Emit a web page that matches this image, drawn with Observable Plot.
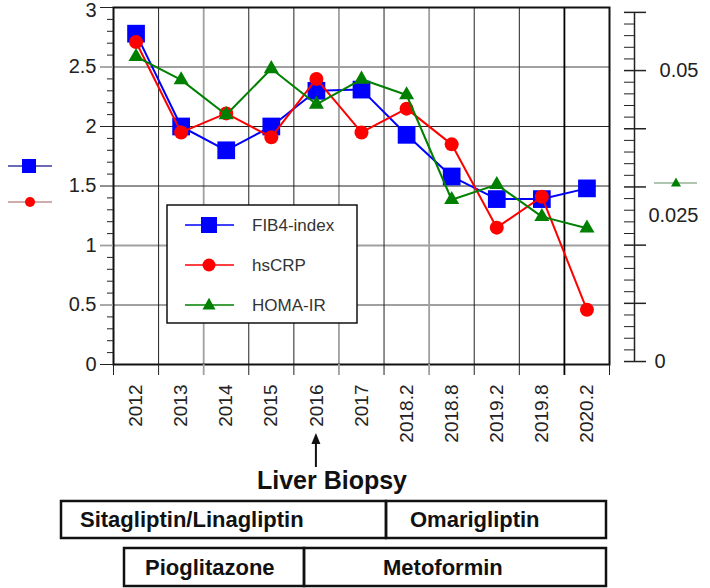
<!DOCTYPE html>
<html><head><meta charset="utf-8">
<script src="https://cdn.jsdelivr.net/npm/d3@7"></script>
<script src="https://cdn.jsdelivr.net/npm/@observablehq/plot@0.6"></script>
<style>
body{margin:0;background:#fff;}
#wrap{position:relative;width:710px;height:588px;font-family:"Liberation Sans",Arial,sans-serif;background:#fff;}
#wrap svg.ov{position:absolute;left:0;top:0;pointer-events:none;}
</style></head><body><div id="wrap"></div>
<script>
// ---- data ----
const categories = ["2012","2013","2014","2015","2016","2017","2018.2","2018.8","2019.2","2019.8","2020.2"];
const fib4   = [2.78,2.00,1.80,2.00,2.30,2.31,1.93,1.58,1.39,1.39,1.48];
const hscrp  = [2.71,1.95,2.11,1.91,2.40,1.95,2.15,1.85,1.15,1.41,0.46];
const homaIR = [0.0524,0.0484,0.0424,0.0503,0.0442,0.0485,0.0458,0.0278,0.0304,0.0249,0.0229];
const leftTicks = [0,0.5,1,1.5,2,2.5,3];
const rightTickLabels = [0.025,0.05];
const rightZeroLabel = [0];
const seriesNames = ["FIB4-index","hsCRP","HOMA-IR"];
const seriesColors = ["#0000ff","#ff0000","#008000"];
const darkGridY = [1.5,2];
const greyGridY = [0.5,1,2.5];
const greyBefore = ["2014","2017","2018.8"];
const blackBefore = ["2020.2"];
const drugsRow1 = ["Sitagliptin/Linagliptin","Omarigliptin"];
const drugsRow2 = ["Pioglitazone","Metoformin"];
const biopsyLabel = "Liver Biopsy";
const biopsyAt = "2016";

// ---- helpers ----
const yR = r => 0.025 + r * 48.9; // right axis (0..0.06) onto left scale
const rows = (s, f = v => v) => categories.map((c, i) => ({i, v: f(s[i])}));
const xi = categories.map((c, i) => i);
const bounds = d3.range(categories.length + 1).map(i => i - 0.5);
const idxBefore = c => categories.indexOf(c) - 0.5;
const greyB = greyBefore.map(idxBefore), blackB = blackBefore.map(idxBefore);
const darkB = bounds.filter(b => !greyB.includes(b) && !blackB.includes(b));
const leftMinor = d3.range(0, 31).map(k => k / 10).filter(v => !leftTicks.includes(v));
const rightMajor = d3.range(0, 7).map(k => k / 100);
const rightMinor = d3.range(0, 31).map(k => k / 500).filter(v => !rightMajor.some(m => Math.abs(m - v) < 1e-9));
const GREY = "#a0a0a0", DARK = "#222";
const yMax = leftTicks[leftTicks.length - 1];

const chart = Plot.plot({
  width: 710, height: 450,
  marginTop: 7, marginBottom: 86, marginLeft: 113, marginRight: 101,
  x: {type: "linear", domain: [-0.5, categories.length - 0.5]},
  y: {domain: [0, 3]},
  style: {fontFamily: "'Liberation Sans', Arial, sans-serif", color: "#111", background: "white", overflow: "visible"},
  marks: [
    Plot.ruleY(greyGridY, {stroke: GREY, strokeWidth: 1.8}),
    Plot.ruleX(greyB, {stroke: GREY, strokeWidth: 1.8}),
    Plot.ruleY(darkGridY, {stroke: DARK, strokeWidth: 1}),
    Plot.ruleX(darkB, {stroke: DARK, strokeWidth: 1}),
    Plot.ruleX(blackB, {stroke: "#000", strokeWidth: 1.8}),
    Plot.frame({stroke: "#111", strokeWidth: 2}),
    // left axis
    Plot.axisY({ticks: leftTicks.filter(v => !greyGridY.includes(v)), tickSize: 13, fill: "none", stroke: DARK, label: null}),
    Plot.axisY({ticks: greyGridY, tickSize: 13, fill: "none", stroke: GREY, strokeWidth: 1.8, label: null}),
    Plot.axisY({ticks: leftMinor, tickSize: 6, fill: "none", stroke: DARK, label: null}),
    Plot.axisY({ticks: leftTicks.filter(v => v !== yMax), tickSize: 13, tickPadding: 4, stroke: "none", fill: "#222", fontSize: 20, tickFormat: d => String(d), label: null}),
    Plot.axisY({ticks: [yMax], tickSize: 13, tickPadding: 4, dy: 3, stroke: "none", fill: "#222", fontSize: 20, tickFormat: d => String(d), label: null}),
    // right axis
    Plot.ruleX([categories.length - 0.5], {y1: yR(0), y2: yR(0.06), dx: 25, stroke: DARK, strokeWidth: 1.5}),
    Plot.axisY({anchor: "right", ticks: rightMajor.map(yR), tickSize: 22, dx: 14, fill: "none", stroke: DARK, strokeWidth: 1.5, label: null}),
    Plot.axisY({anchor: "right", ticks: rightMinor.map(yR), tickSize: 11, dx: 14, fill: "none", stroke: DARK, label: null}),
    Plot.axisY({anchor: "right", ticks: rightTickLabels.map(yR), tickSize: 0, tickPadding: 0, dx: 89, textAnchor: "end", stroke: "none", fill: "#222", fontSize: 20, tickFormat: d => String(+((d - 0.025) / 48.9).toFixed(3)), label: null}),
    Plot.axisY({anchor: "right", ticks: rightZeroLabel.map(yR), tickSize: 0, tickPadding: 0, dx: 45, textAnchor: "start", stroke: "none", fill: "#222", fontSize: 20, tickFormat: () => "0", label: null}),
    // x axis
    Plot.axisX({ticks: darkB, tickSize: 11, fill: "none", stroke: DARK, label: null}),
    Plot.axisX({ticks: greyB, tickSize: 11, fill: "none", stroke: GREY, strokeWidth: 1.8, label: null}),
    Plot.axisX({ticks: blackB, tickSize: 11, fill: "none", stroke: "#000", strokeWidth: 1.8, label: null}),
    Plot.axisX({ticks: xi, tickSize: 0, tickPadding: 20, tickRotate: -90, stroke: "none", fill: "#222", fontSize: 19, tickFormat: i => categories[i], label: null}),
    // series
    Plot.line(rows(fib4), {x: "i", y: "v", stroke: seriesColors[0], strokeWidth: 2}),
    Plot.dot(rows(fib4), {x: "i", y: "v", symbol: "square", r: 10, fill: seriesColors[0]}),
    Plot.line(rows(hscrp), {x: "i", y: "v", stroke: seriesColors[1], strokeWidth: 2}),
    Plot.dot(rows(hscrp), {x: "i", y: "v", symbol: "circle", r: 7, fill: seriesColors[1]}),
    Plot.line(rows(homaIR, yR), {x: "i", y: "v", stroke: seriesColors[2], strokeWidth: 2}),
    Plot.dot(rows(homaIR, yR), {x: "i", y: "v", symbol: "triangle", r: 5.6, fill: seriesColors[2]})
  ]
});
const wrap = document.getElementById("wrap");
wrap.appendChild(chart);

// ---- overlay: legends and annotations ----
const xs = i => 113 + (i + 0.5) * (496 / categories.length);
const ov = d3.select(wrap).append("svg").attr("class", "ov").attr("width", 710).attr("height", 588)
  .style("font-family", "'Liberation Sans', Arial, sans-serif");

function marker(g, k, cx, cy, s) {
  if (k === 0) g.append("rect").attr("x", cx - s).attr("y", cy - s).attr("width", 2 * s).attr("height", 2 * s).attr("fill", seriesColors[0]);
  else if (k === 1) g.append("circle").attr("cx", cx).attr("cy", cy).attr("r", s).attr("fill", seriesColors[1]);
  else g.append("path").attr("d", `M${cx},${cy - s * 1.1}L${cx + s},${cy + s * 0.7}L${cx - s},${cy + s * 0.7}Z`).attr("fill", seriesColors[2]);
}

// inner legend box
const lg = ov.append("g");
lg.append("rect").attr("x", 167).attr("y", 205).attr("width", 190).attr("height", 118).attr("fill", "white").attr("stroke", "#111").attr("stroke-width", 1.5);
seriesNames.forEach((n, k) => {
  const y = 225 + k * 40;
  lg.append("line").attr("x1", 185).attr("x2", 234).attr("y1", y).attr("y2", y).attr("stroke", seriesColors[k]).attr("stroke-width", 1.3);
  marker(lg, k, 209, y, k === 0 ? 8 : 6.5);
  lg.append("text").attr("x", 252).attr("y", y).attr("dy", "0.36em").attr("font-size", 17).attr("fill", "#333").text(n);
});

// side markers
const sm = ov.append("g");
sm.append("line").attr("x1", 8).attr("x2", 52).attr("y1", 166).attr("y2", 166).attr("stroke", "#3a3aa0").attr("stroke-width", 1.3);
marker(sm, 0, 29, 166, 7);
sm.append("line").attr("x1", 8).attr("x2", 52).attr("y1", 202).attr("y2", 202).attr("stroke", "#c09090").attr("stroke-width", 1.5);
marker(sm, 1, 30, 202, 5);
sm.append("line").attr("x1", 654).attr("x2", 697).attr("y1", 183).attr("y2", 183).attr("stroke", "#609060").attr("stroke-width", 1.2);
marker(sm, 2, 676, 183, 5);

// liver biopsy arrow
const bx = xs(categories.indexOf(biopsyAt));
ov.append("line").attr("x1", bx).attr("x2", bx).attr("y1", 467).attr("y2", 440).attr("stroke", "#111").attr("stroke-width", 2);
ov.append("path").attr("d", `M${bx},433L${bx + 4.5},444L${bx - 4.5},444Z`).attr("fill", "#111");
ov.append("text").attr("x", 332).attr("y", 489).attr("text-anchor", "middle").attr("font-size", 25).attr("font-weight", "bold").attr("fill", "#111").text(biopsyLabel);

// drug boxes
const boxes = [
  {t: drugsRow1[0], x1: 61, x2: 386, y1: 501, y2: 538, tx: 80},
  {t: drugsRow1[1], x1: 386, x2: 606, y1: 501, y2: 538, tx: 410},
  {t: drugsRow2[0], x1: 124, x2: 304, y1: 548, y2: 586, tx: 145},
  {t: drugsRow2[1], x1: 304, x2: 606, y1: 548, y2: 586, tx: 383}
];
boxes.forEach(b => {
  ov.append("rect").attr("x", b.x1).attr("y", b.y1).attr("width", b.x2 - b.x1).attr("height", b.y2 - b.y1)
    .attr("fill", "none").attr("stroke", "#111").attr("stroke-width", 2.5);
  ov.append("text").attr("x", b.tx).attr("y", (b.y1 + b.y2) / 2).attr("dy", "0.36em").attr("font-size", 22).attr("font-weight", "bold").attr("fill", "#111").text(b.t);
});
</script></body></html>
